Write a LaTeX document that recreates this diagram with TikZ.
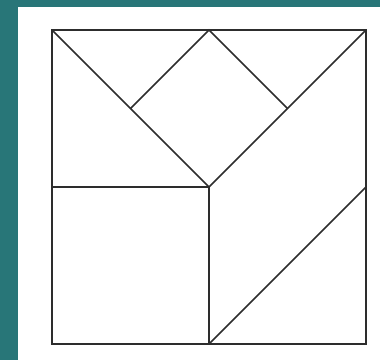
\documentclass[tikz,border=0pt]{standalone}
\definecolor{teal1}{RGB}{40,118,120}
\definecolor{ink}{RGB}{45,45,45}
\begin{document}
\begin{tikzpicture}[x=1pt,y=-1pt,
  piece/.style={draw=ink,line width=1.7pt,line join=miter}]
\fill[teal1] (0,0) rectangle (380,360);
\useasboundingbox (0,0) rectangle (380,360);
\fill[white] (18,7) rectangle (380,360);
\coordinate (TL) at (52,30);
\coordinate (TR) at (366,30);
\coordinate (BR) at (366,344);
\coordinate (BL) at (52,344);
\coordinate (C) at (209,187);
\coordinate (TM) at (209,30);
\coordinate (DL) at (130.5,108.5);
\coordinate (DR) at (287.5,108.5);
\coordinate (LM) at (52,187);
\coordinate (RM) at (366,187);
\coordinate (BM) at (209,344);
\draw[piece] (TL) rectangle (BR);
\draw[piece] (TL) -- (C) -- (TR);
\draw[piece] (DL) -- (TM) -- (DR);
\draw[piece] (LM) -- (C) -- (BM);
\draw[piece] (RM) -- (BM);
\end{tikzpicture}
\end{document}
